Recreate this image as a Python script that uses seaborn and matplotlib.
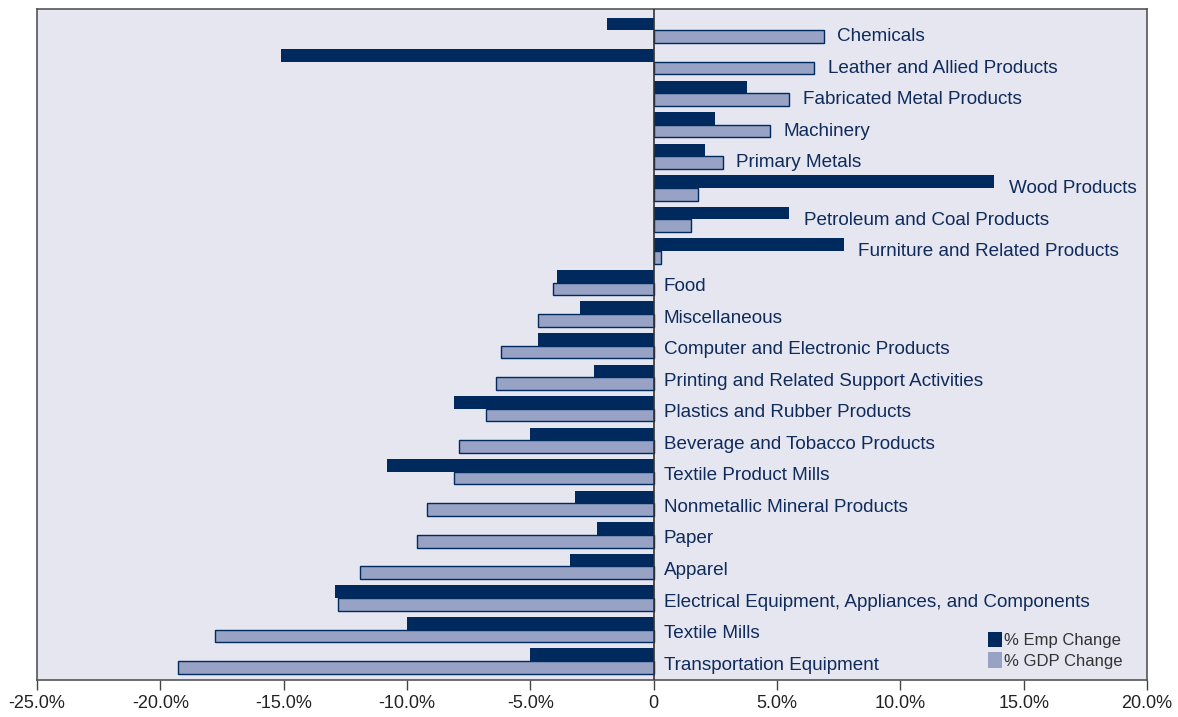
#!/usr/bin/env python
"""
  Manufacturing: % change in employment vs % change in GDP by industry
"""

import matplotlib

matplotlib.use("Agg")
import matplotlib.pylab as plt
import seaborn as sns
import pandas as pd

INDUSTRIES = [
    "Chemicals",
    "Leather and Allied Products",
    "Fabricated Metal Products",
    "Machinery",
    "Primary Metals",
    "Wood Products",
    "Petroleum and Coal Products",
    "Furniture and Related Products",
    "Food",
    "Miscellaneous",
    "Computer and Electronic Products",
    "Printing and Related Support Activities",
    "Plastics and Rubber Products",
    "Beverage and Tobacco Products",
    "Textile Product Mills",
    "Nonmetallic Mineral Products",
    "Paper",
    "Apparel",
    "Electrical Equipment, Appliances, and Components",
    "Textile Mills",
    "Transportation Equipment",
]
EMP_CHANGE = [-1.9, -15.1, 3.8, 2.5, 2.1, 13.8, 5.5, 7.7, -3.9, -3.0, -4.7,
              -2.4, -8.1, -5.0, -10.8, -3.2, -2.3, -3.4, -12.9, -10.0, -5.0]
GDP_CHANGE = [6.9, 6.5, 5.5, 4.7, 2.8, 1.8, 1.5, 0.3, -4.1, -4.7, -6.2,
              -6.4, -6.8, -7.9, -8.1, -9.2, -9.6, -11.9, -12.8, -17.8, -19.3]
SERIES = ["% Emp Change", "% GDP Change"]
XTICKS = [-25, -20, -15, -10, -5, 0, 5, 10, 15, 20]

NAVY = "#002A5E"
LIGHT = "#97A2C4"
TEXT = "#0F2B5B"


def main():
    sns.set_theme(style="white")
    plt.rcParams["font.family"] = ["Liberation Sans", "DejaVu Sans"]

    frame = pd.DataFrame({
        "industry": INDUSTRIES * 2,
        "value": EMP_CHANGE + GDP_CHANGE,
        "series": [SERIES[0]] * len(INDUSTRIES) + [SERIES[1]] * len(INDUSTRIES),
    })

    fig = plt.figure(figsize=(11.78, 7.17), dpi=100)
    ax = fig.add_axes([0.0314, 0.0516, 0.9423, 0.9358])
    ax.set_facecolor("#E5E6F0")

    sns.barplot(
        data=frame, x="value", y="industry", hue="series", order=INDUSTRIES,
        hue_order=SERIES, palette=[NAVY, LIGHT], orient="h", width=0.8,
        saturation=1, ax=ax, legend=True,
    )
    # outline the GDP bars
    n = len(INDUSTRIES)
    for patch in ax.patches[n:2 * n]:
        patch.set_edgecolor(NAVY)
        patch.set_linewidth(1.0)
    for patch in ax.patches[:n]:
        patch.set_linewidth(0)

    ax.axvline(0, color="#333333", linewidth=1.2, zorder=5)

    # category labels beside the bars
    for i, (name, e, g) in enumerate(zip(INDUSTRIES, EMP_CHANGE, GDP_CHANGE)):
        right = max(0, e, g)
        if right == 0:
            x, y = 0.4, i + 0.13
        elif e > g:
            x, y = right + 0.6, i + 0.03
        else:
            x, y = right + 0.55, i + 0.2
        ax.text(x, y, name, color=TEXT, fontsize=13.6, va="center", ha="left")

    ax.set_xlim(-25, 20)
    ax.set_ylim(n - 0.4, -0.67)
    ax.set_xticks(XTICKS)
    ax.set_xticklabels(["0" if t == 0 else f"{t:.1f}%" for t in XTICKS],
                       fontsize=13, color="#222222")
    ax.tick_params(axis="x", direction="out", length=7, width=1,
                   color="#444444", pad=4, bottom=True)
    ax.set_yticks([])
    ax.set(xlabel="", ylabel="")
    for side in ["left", "right", "top", "bottom"]:
        ax.spines[side].set_color("#555555")
        ax.spines[side].set_linewidth(1.2)

    leg = ax.legend(
        loc="lower right", bbox_to_anchor=(0.99, -0.003), frameon=False,
        fontsize=12, handlelength=0.85, handleheight=1.05, handletextpad=0.1,
        labelspacing=0.25, borderpad=0.3,
    )
    for h in leg.legend_handles:
        h.set_linewidth(0)
    for t in leg.get_texts():
        t.set_color("#333333")

    fig.savefig("out.png", dpi=100)


if __name__ == "__main__":
    main()
